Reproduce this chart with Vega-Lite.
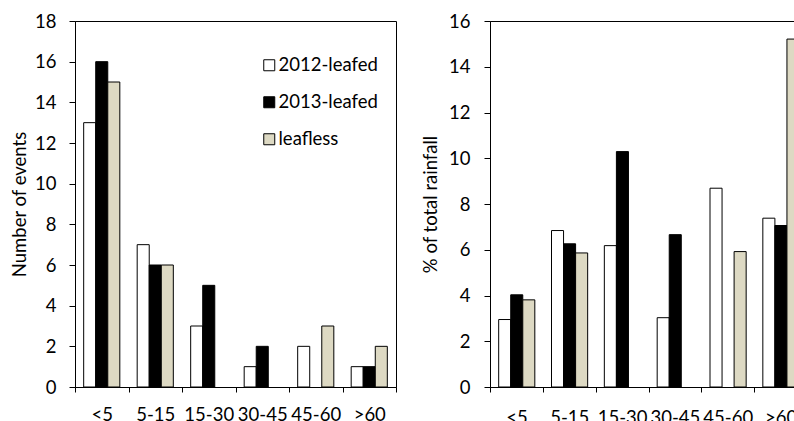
{
  "$schema": "https://vega.github.io/schema/vega-lite/v6.json",
  "background": "white",
  "padding": {"left": 10, "top": 11, "right": 0, "bottom": 0},
  "spacing": 24,
  "config": {
    "font": "Lato",
    "view": {"stroke": "black", "strokeWidth": 1},
    "axis": {
      "domainColor": "black", "tickColor": "black", "labelColor": "black", "titleColor": "black",
      "labelFont": "Lato", "titleFont": "Lato", "labelFontSize": 18.5, "titleFontSize": 18.5,
      "titleFontWeight": "normal", "grid": false, "tickSize": 6, "domainWidth": 1, "tickWidth": 1
    },
    "legend": {
      "padding": 0, "labelFont": "Lato", "labelFontSize": 18.5, "labelColor": "black",
      "symbolType": "square", "symbolSize": 121, "symbolStrokeColor": "black", "symbolStrokeWidth": 1,
      "symbolOpacity": 1, "rowPadding": 18, "labelOffset": 0
    }
  },
  "datasets": {
    "events": [
      {"cat": "<5", "series": "2012-leafed", "value": 13},
      {"cat": "<5", "series": "2013-leafed", "value": 16},
      {"cat": "<5", "series": "leafless", "value": 15},
      {"cat": "5-15", "series": "2012-leafed", "value": 7},
      {"cat": "5-15", "series": "2013-leafed", "value": 6},
      {"cat": "5-15", "series": "leafless", "value": 6},
      {"cat": "15-30", "series": "2012-leafed", "value": 3},
      {"cat": "15-30", "series": "2013-leafed", "value": 5},
      {"cat": "30-45", "series": "2012-leafed", "value": 1},
      {"cat": "30-45", "series": "2013-leafed", "value": 2},
      {"cat": "45-60", "series": "2012-leafed", "value": 2},
      {"cat": "45-60", "series": "leafless", "value": 3},
      {"cat": ">60", "series": "2012-leafed", "value": 1},
      {"cat": ">60", "series": "2013-leafed", "value": 1},
      {"cat": ">60", "series": "leafless", "value": 2}
    ],
    "rain": [
      {"cat": "<5", "series": "2012-leafed", "value": 2.95},
      {"cat": "<5", "series": "2013-leafed", "value": 4.03},
      {"cat": "<5", "series": "leafless", "value": 3.81},
      {"cat": "5-15", "series": "2012-leafed", "value": 6.84},
      {"cat": "5-15", "series": "2013-leafed", "value": 6.26},
      {"cat": "5-15", "series": "leafless", "value": 5.86},
      {"cat": "15-30", "series": "2012-leafed", "value": 6.18},
      {"cat": "15-30", "series": "2013-leafed", "value": 10.29},
      {"cat": "30-45", "series": "2012-leafed", "value": 3.03},
      {"cat": "30-45", "series": "2013-leafed", "value": 6.66},
      {"cat": "45-60", "series": "2012-leafed", "value": 8.69},
      {"cat": "45-60", "series": "leafless", "value": 5.92},
      {"cat": ">60", "series": "2012-leafed", "value": 7.38},
      {"cat": ">60", "series": "2013-leafed", "value": 7.06},
      {"cat": ">60", "series": "leafless", "value": 15.21}
    ]
  },
  "resolve": {"scale": {"fill": "independent"}},
  "hconcat": [
    {
      "width": 321,
      "height": 366,
      "data": {"name": "events"},
      "mark": {"type": "bar", "stroke": "black", "strokeWidth": 1},
      "encoding": {
        "x": {
          "field": "cat", "type": "nominal",
          "sort": ["<5", "5-15", "15-30", "30-45", "45-60", ">60"],
          "scale": {"paddingInner": 0, "paddingOuter": 0},
          "axis": {"title": null, "labelAngle": 0, "tickBand": "extent", "tickSize": 5, "labelPadding": 13}
        },
        "xOffset": {
          "field": "series", "type": "nominal",
          "sort": ["2012-leafed", "2013-leafed", "leafless"],
          "scale": {"paddingOuter": 0.72, "paddingInner": 0}
        },
        "y": {
          "field": "value", "type": "quantitative",
          "scale": {"domain": [0, 18], "nice": false},
          "axis": {"title": "Number of events", "values": [0, 2, 4, 6, 8, 10, 12, 14, 16, 18], "labelPadding": 13, "titlePadding": 5}
        },
        "fill": {
          "field": "series", "type": "nominal",
          "scale": {"domain": ["2012-leafed", "2013-leafed", "leafless"], "range": ["white", "black", "#DDD9C3"]},
          "legend": {"orient": "none", "legendX": 185, "legendY": 35, "title": null}
        }
      }
    },
    {
      "width": 317,
      "height": 366,
      "data": {"name": "rain"},
      "mark": {"type": "bar", "stroke": "black", "strokeWidth": 1},
      "encoding": {
        "x": {
          "field": "cat", "type": "nominal",
          "sort": ["<5", "5-15", "15-30", "30-45", "45-60", ">60"],
          "scale": {"paddingInner": 0, "paddingOuter": 0},
          "axis": {"title": null, "labelAngle": 0, "tickBand": "extent", "tickSize": 5, "labelPadding": 16}
        },
        "xOffset": {
          "field": "series", "type": "nominal",
          "sort": ["2012-leafed", "2013-leafed", "leafless"],
          "scale": {"paddingOuter": 0.72, "paddingInner": 0}
        },
        "y": {
          "field": "value", "type": "quantitative",
          "scale": {"domain": [0, 16], "nice": false},
          "axis": {"title": "% of total rainfall", "values": [0, 2, 4, 6, 8, 10, 12, 14, 16], "labelPadding": 14, "titlePadding": 8}
        },
        "fill": {
          "field": "series", "type": "nominal",
          "scale": {"domain": ["2012-leafed", "2013-leafed", "leafless"], "range": ["white", "black", "#DDD9C3"]},
          "legend": null
        }
      }
    }
  ]
}
